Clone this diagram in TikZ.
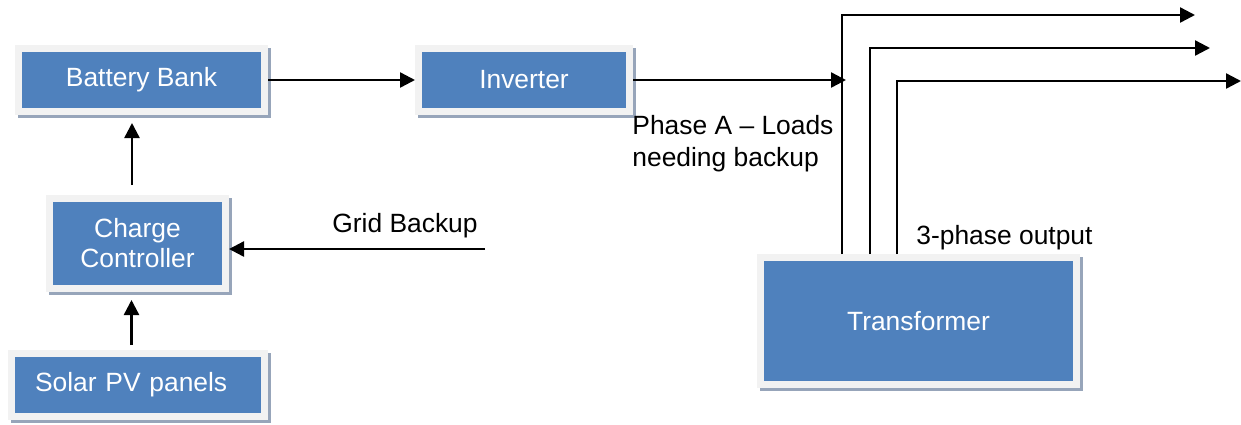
\documentclass[tikz,border=0pt]{standalone}
\usepackage{fontspec}
\setmainfont{Liberation Sans}
\usetikzlibrary{arrows.meta, positioning, shadows}
\definecolor{blockblue}{HTML}{4F81BD}
\definecolor{blockframe}{HTML}{F2F2F2}
\definecolor{blockshade}{HTML}{97A5BA}

\begin{document}
\begin{tikzpicture}[
      x=0.5pt, y=-0.5pt,
      blk/.style = {draw=blockframe, line width=3.5pt, fill=blockblue,
                    general shadow={fill=blockshade, draw=blockshade, line width=3.5pt,
                                    shadow xshift=1.5pt, shadow yshift=-1.5pt},
                    text=white, inner sep=0pt, align=center,
                    font=\fontsize{13.2}{15}\selectfont},
      arr/.style = {-{Triangle[length=7.5pt, width=7.5pt]}, line width=1.2pt},
      lbl/.style = {inner sep=0pt, font=\fontsize{13.2}{16}\selectfont}
    ]
    \useasboundingbox (0,0) rectangle (1241,424);

    % blocks
    \node[blk, minimum width=123pt,   minimum height=31.5pt] (bat) at (141.5,80)  {Battery Bank};
    \node[blk, minimum width=105.5pt, minimum height=31.5pt, right=73.5pt of bat] (inv) {Inverter};
    \node[blk, minimum width=88pt,    minimum height=45pt]   (cc)  at (137.5,243.5) {Charge\\Controller};
    \node[blk, minimum width=126.5pt, minimum height=31.5pt,
          text width=103pt, align=left]                      (pv)  at (138,385)   {Solar PV panels};
    \node[blk, minimum width=158pt,   minimum height=63.5pt] (tr)  at (918.5,321) {Transformer};

    % free ends
    \coordinate (phaseA) at (846,80);
    \coordinate (gridin) at (485,249);
    \coordinate (out1)   at (1195,15);
    \coordinate (out2)   at (1210,48);
    \coordinate (out3)   at (1241,81);

    % connections
    \draw[arr] (bat) -- (inv);
    \draw[arr] (inv.east) -- (phaseA);
    \draw[arr, shorten <=5pt, shorten >=4pt]
          ([xshift=-2.75pt]cc.north) -- ([xshift=-2.75pt]cc.north |- bat.south);
    \draw[arr, shorten <=2.5pt, shorten >=4pt]
          ([xshift=-3.25pt]pv.north) -- ([xshift=-3.25pt]pv.north |- cc.south);
    \draw[arr] (gridin) -- (gridin -| cc.east);
    \foreach \dx/\o in {-38.25pt/out1, -24.25pt/out2, -10.75pt/out3}
      \draw[arr] ([xshift=\dx]tr.north) |- (\o);

    % labels
    \node[lbl]                                (gridlbl)  at (405,226) {Grid Backup};
    \node[lbl, anchor=north west, align=left] (phaselbl) at (632,115) {Phase A – Loads\\needing backup};
    \node[lbl, anchor=west]                   (outlbl)   at (916,238) {3-phase output};
  \end{tikzpicture}
\end{document}
